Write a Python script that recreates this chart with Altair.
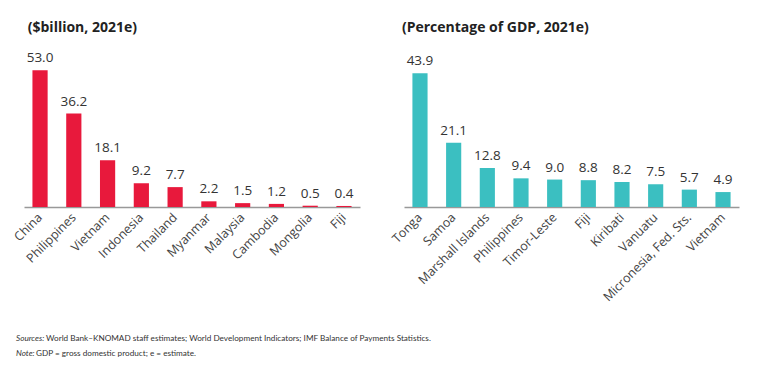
import altair as alt
import pandas as pd

left_countries = ["China", "Philippines", "Vietnam", "Indonesia", "Thailand",
                  "Myanmar", "Malaysia", "Cambodia", "Mongolia", "Fiji"]
left_values = [53.0, 36.2, 18.1, 9.2, 7.7, 2.2, 1.5, 1.2, 0.5, 0.4]

right_countries = ["Tonga", "Samoa", "Marshall Islands", "Philippines", "Timor-Leste",
                   "Fiji", "Kiribati", "Vanuatu", "Micronesia, Fed. Sts.", "Vietnam"]
right_values = [43.9, 21.1, 12.8, 9.4, 9.0, 8.8, 8.2, 7.5, 5.7, 4.9]

left_title = "($billion, 2021e)"
right_title = "(Percentage of GDP, 2021e)"
note_sources_lbl = "Sources:"
note_sources = "World Bank\u2013KNOMAD staff estimates; World Development Indicators; IMF Balance of Payments Statistics."
note_note_lbl = "Note:"
note_note = "GDP = gross domestic product; e = estimate."

FONT = "Open Sans"
FOOT_FONT = "Lato"
RED = "#E8193C"
TEAL = "#3BBFC1"
H = 157

def panel(countries, values, color, title, ymax, width, tdx):
    df = pd.DataFrame({"country": countries, "value": values,
                       "label": [f"{v:.1f}" for v in values]})
    base = alt.Chart(df).encode(
        x=alt.X("country:N", sort=countries, title=None,
                scale=alt.Scale(paddingInner=0.55, paddingOuter=0.25),
                axis=alt.Axis(labelAngle=-45, labelAlign="right", labelBaseline="middle",
                              ticks=False, labelPadding=8, labelFontSize=12.5,
                              labelColor="#444", labelFont=FONT,
                              domainColor="#999", domainWidth=1.5)),
        y=alt.Y("value:Q", scale=alt.Scale(domain=[0, ymax], nice=False), axis=None),
    )
    bars = base.mark_bar(color=color)
    text = base.mark_text(baseline="bottom", dy=-5, fontSize=13.5, font=FONT, color="#333").encode(text="label:N")
    return alt.layer(bars, text).properties(
        width=width, height=H,
        title=alt.TitleParams(title, anchor="start", fontSize=14, font=FONT,
                              fontWeight="bold", color="#222", offset=15, dx=tdx),
    )

left = panel(left_countries, left_values, RED, left_title, 60.8, 336, 16)

footer_df = pd.DataFrame({"a": [0]})
def foot(x, y, txt, italic):
    return alt.Chart(footer_df).mark_text(
        align="left", baseline="alphabetic", fontSize=8.2, font=FOOT_FONT,
        fontStyle="italic" if italic else "normal", color="#333").encode(
        x=alt.value(x), y=alt.value(y), text=alt.value(txt))

left = alt.layer(left,
                 foot(-8, 291, note_sources_lbl, True),
                 foot(22, 291, note_sources, False),
                 foot(-8, 306, note_note_lbl, True),
                 foot(12, 306, note_note, False))

right = panel(right_countries, right_values, TEAL, right_title, 51.5, 335, 12)

chart = alt.hconcat(left, right, spacing=44, bounds="flush").configure_view(stroke=None).properties(
    background="white", padding={"top": 13, "left": 3, "right": 5, "bottom": 5})

chart.save("out.html", embed_options={"renderer": "svg", "actions": False})
